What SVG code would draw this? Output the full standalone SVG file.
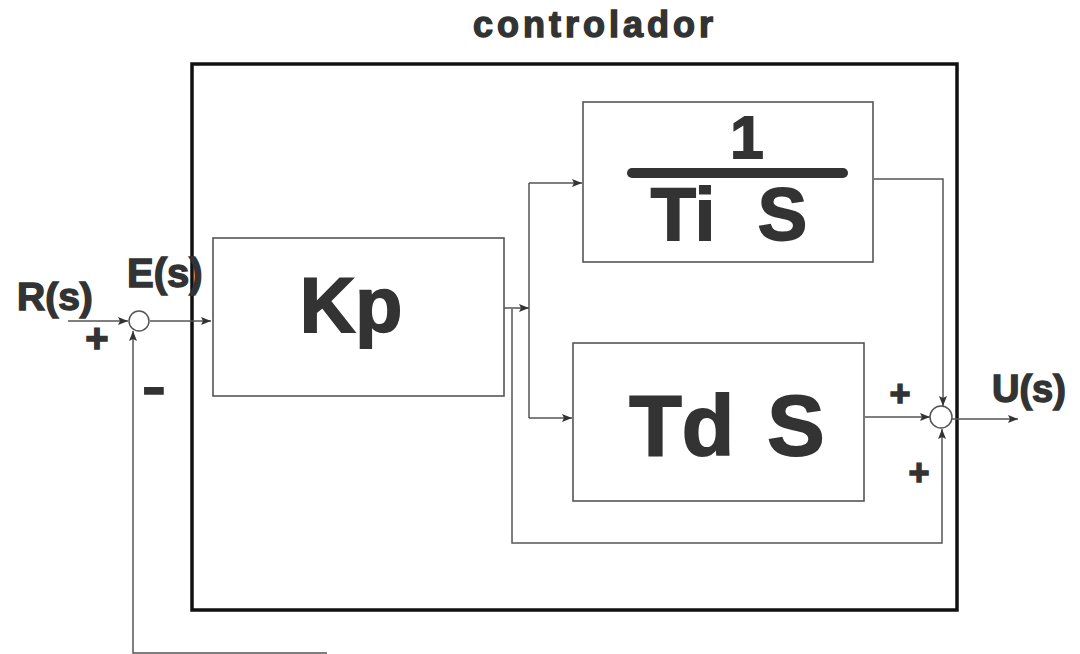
<svg xmlns="http://www.w3.org/2000/svg" width="1080" height="654" viewBox="0 0 1080 654">
  <defs>
    <marker id="arr" viewBox="0 0 10 8" refX="10" refY="4" markerWidth="10" markerHeight="8" markerUnits="userSpaceOnUse" orient="auto">
      <path d="M0,0 L10,4 L0,8 L2,4 Z" fill="#333"/>
    </marker>
    <style>
      .ln { fill: none; stroke: #555; stroke-width: 1.5; }
      .box { fill: #fff; stroke: #555; stroke-width: 1.6; }
      .big { font-family: "Liberation Sans", Arial, sans-serif; font-weight: bold; fill: #333; stroke: #333; stroke-width: 1.8; }
      .lbl { font-family: "Liberation Sans", Arial, sans-serif; font-weight: bold; fill: #333; stroke: #333; stroke-width: 1.4; }
      .sum { fill: #fff; stroke: #555; stroke-width: 1.5; }
    </style>
  </defs>
  <rect width="1080" height="654" fill="#fff"/>

  <g id="title">
    <text class="lbl" x="595" y="37" font-size="36" letter-spacing="4" text-anchor="middle">controlador</text>
  </g>

  <g id="controller-frame">
    <rect x="192" y="64" width="765" height="546" fill="none" stroke="#111" stroke-width="3.5"/>
  </g>

  <g id="connectors">
    <line class="ln" x1="68" y1="321" x2="128" y2="321" marker-end="url(#arr)"/>
    <line class="ln" x1="150" y1="321" x2="211" y2="321" marker-end="url(#arr)"/>
    <line class="ln" x1="504" y1="308" x2="529" y2="308" marker-end="url(#arr)"/>
    <line class="ln" x1="529" y1="183" x2="529" y2="418"/>
    <line class="ln" x1="529" y1="183" x2="582" y2="183" marker-end="url(#arr)"/>
    <line class="ln" x1="529" y1="418" x2="572" y2="418" marker-end="url(#arr)"/>
    <polyline class="ln" points="512,309 512,543 942,543 942,429" marker-end="url(#arr)"/>
    <polyline class="ln" points="874,179 943,179 943,406" marker-end="url(#arr)"/>
    <line class="ln" x1="865" y1="417" x2="930" y2="417" marker-end="url(#arr)"/>
    <line class="ln" x1="952" y1="419" x2="1018" y2="419" marker-end="url(#arr)"/>
    <polyline class="ln" points="327,653 133,653 133,331" marker-end="url(#arr)"/>
  </g>

  <g id="sum1">
    <circle class="sum" cx="139" cy="321" r="10"/>
    <text class="lbl" x="97" y="352" font-size="40" text-anchor="middle">+</text>
    <text class="lbl" x="0" y="0" font-size="52" text-anchor="middle" transform="translate(154,404) scale(1.35,1)">-</text>
  </g>

  <g id="Kp">
    <rect class="box" x="213" y="238" width="291" height="158"/>
    <text class="big" x="351" y="332" font-size="77" text-anchor="middle">Kp</text>
  </g>

  <g id="integral">
    <rect class="box" x="583" y="102" width="290" height="160"/>
    <text class="big" x="747" y="158" font-size="60" text-anchor="middle">1</text>
    <line x1="632" y1="173" x2="843" y2="173" stroke="#333" stroke-width="10" stroke-linecap="round"/>
    <text class="big" x="729" y="240" font-size="74" word-spacing="22" text-anchor="middle">Ti S</text>
  </g>

  <g id="derivative">
    <rect class="box" x="573" y="343" width="291" height="158"/>
    <text class="big" x="727" y="455" font-size="86" word-spacing="9" text-anchor="middle">Td S</text>
  </g>

  <g id="sum2">
    <circle class="sum" cx="941" cy="417" r="11"/>
    <text class="lbl" x="900" y="406" font-size="36" text-anchor="middle">+</text>
    <text class="lbl" x="919" y="485" font-size="36" text-anchor="middle">+</text>
  </g>

  <g id="labels">
    <text class="lbl" x="17" y="310" font-size="39">R(s)</text>
    <text class="lbl" x="127" y="287" font-size="40">E(s)</text>
    <text class="lbl" x="992" y="402" font-size="38">U(s)</text>
  </g>
</svg>
